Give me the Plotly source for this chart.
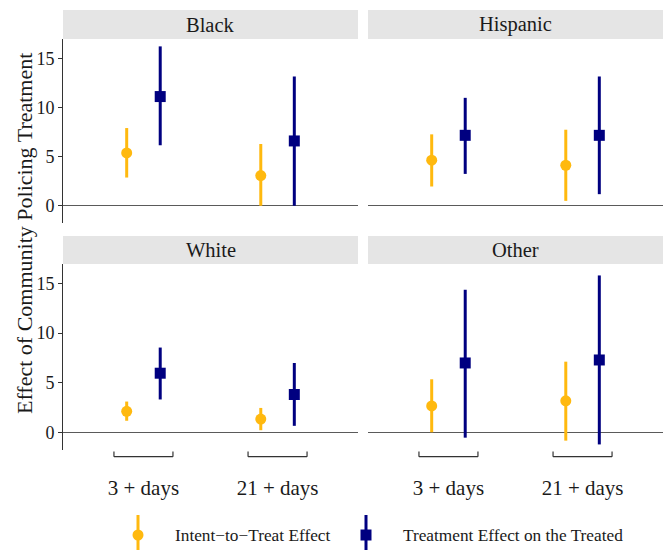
import numpy as np
import plotly.graph_objects as go

# ---------------- data ----------------
groups = ["Black", "Hispanic", "White", "Other"]
categories = ["3 + days", "21 + days"]
series_names = ["Intent\u2212to\u2212Treat Effect", "Treatment Effect on the Treated"]

itt_est = [[5.37, 3.07], [4.63, 4.12], [2.14, 1.36], [2.68, 3.19]]
itt_lo = [[2.87, 0.00], [1.96, 0.50], [1.19, 0.24], [0.03, -0.81]]
itt_hi = [[7.90, 6.28], [7.26, 7.73], [3.12, 2.48], [5.36, 7.13]]

tot_est = [[11.10, 6.59], [7.16, 7.16], [5.97, 3.83], [7.00, 7.30]]
tot_lo = [[6.15, 0.00], [3.24, 1.18], [3.33, 0.68], [-0.51, -1.19]]
tot_hi = [[16.20, 13.14], [10.97, 13.14], [8.55, 7.00], [14.36, 15.80]]

y_ticks = [0, 5, 10, 15]

# ---------------- style ----------------
ORANGE = "#FFB90F"
NAVY = "#000080"
FONT = "Liberation Serif, Times New Roman, DejaVu Serif, serif"
TXT = "#1a1a1a"
AXC = "#333333"
STRIP = "#E5E5E5"

W, H = 669, 550
ML, MR, MT, MB = 63, 6, 10, 100
PW, PH = W - ML - MR, H - MT - MB


def px_x(p):
    return (p - ML) / PW


def px_y(p):
    return (H - MB - p) / PH


x_domains = [[0.0, px_x(358)], [px_x(368), 1.0]]
y_domains_top = [px_y(223), px_y(39)]
y_domains_bot = [0.0, px_y(264)]
strip_top = [px_y(39), px_y(10)]
strip_bot = [px_y(264), px_y(236)]

x_range = [0.4, 2.6]
y_range = [-1.75, 16.95]
dodge = 0.125
bracket_half = 0.22

fig = go.Figure()

cat_pos = np.arange(1, len(categories) + 1)

for gi, g in enumerate(groups):
    n = gi + 1
    xa = "x" if n == 1 else f"x{n}"
    ya = "y" if n == 1 else f"y{n}"
    for est, lo, hi, col, sym, size, off, name in [
        (itt_est, itt_lo, itt_hi, ORANGE, "circle", 11, -dodge, series_names[0]),
        (tot_est, tot_lo, tot_hi, NAVY, "square", 11, dodge, series_names[1]),
    ]:
        e = np.array(est[gi])
        l = np.array(lo[gi])
        h = np.array(hi[gi])
        fig.add_trace(go.Scatter(
            x=cat_pos + off, y=e, mode="markers", xaxis=xa, yaxis=ya,
            name=name, showlegend=False,
            marker=dict(color=col, symbol=sym, size=size, line=dict(width=0)),
            error_y=dict(type="data", symmetric=False, array=h - e, arrayminus=e - l,
                         color=col, thickness=3, width=0),
        ))

layout = dict(
    width=W, height=H,
    margin=dict(l=ML, r=MR, t=MT, b=MB),
    paper_bgcolor="white", plot_bgcolor="white",
    showlegend=False,
    font=dict(family=FONT, color=TXT),
)

for gi in range(4):
    n = gi + 1
    col = gi % 2
    row = gi // 2
    xk = "xaxis" if n == 1 else f"xaxis{n}"
    yk = "yaxis" if n == 1 else f"yaxis{n}"
    ya = "y" if n == 1 else f"y{n}"
    xa = "x" if n == 1 else f"x{n}"
    xd = dict(domain=x_domains[col], range=x_range, anchor=ya, showgrid=False,
              zeroline=False, showline=False, ticks="", fixedrange=True)
    if row == 1:
        xd.update(tickmode="array", tickvals=list(cat_pos), ticktext=categories,
                  tickfont=dict(size=21, color=TXT, family=FONT), ticklabelstandoff=23)
    else:
        xd.update(showticklabels=False)
    yd = dict(domain=y_domains_top if row == 0 else y_domains_bot, range=y_range,
              anchor=xa, showgrid=False, zeroline=True, zerolinecolor="#5a5a5a",
              zerolinewidth=1, tickmode="array", tickvals=y_ticks, fixedrange=True)
    if col == 0:
        yd.update(showline=True, linecolor=AXC, linewidth=1, ticks="outside", ticklen=4,
                  tickcolor=AXC, tickwidth=1,
                  tickfont=dict(size=18, color=TXT, family=FONT))
    else:
        yd.update(showline=False, ticks="", showticklabels=False)
    layout[xk] = xd
    layout[yk] = yd

fig.update_layout(**layout)

# strips
for gi, g in enumerate(groups):
    col = gi % 2
    row = gi // 2
    sy = strip_top if row == 0 else strip_bot
    fig.add_shape(type="rect", xref="paper", yref="paper",
                  x0=x_domains[col][0], x1=x_domains[col][1], y0=sy[0], y1=sy[1],
                  fillcolor=STRIP, line=dict(width=0), layer="below")
    fig.add_annotation(xref="paper", yref="paper",
                       x=(x_domains[col][0] + x_domains[col][1]) / 2,
                       y=(sy[0] + sy[1]) / 2, text=g, showarrow=False,
                       xanchor="center", yanchor="middle",
                       font=dict(size=20.5, color=TXT, family=FONT))

# bracket x-axis for bottom panels
for n in [3, 4]:
    xa = f"x{n}"
    yr = f"y{n} domain"
    for c in cat_pos:
        fig.add_shape(type="line", xref=xa, yref=yr, x0=c - bracket_half, x1=c + bracket_half,
                      ysizemode="pixel", yanchor=0, y0=-6.7, y1=-6.7,
                      line=dict(color=AXC, width=1.2))
        for xe in [c - bracket_half, c + bracket_half]:
            fig.add_shape(type="line", xref=xa, yref=yr, x0=xe, x1=xe,
                          ysizemode="pixel", yanchor=0, y0=-6.7, y1=-1.5,
                          line=dict(color=AXC, width=1.2))

# y-axis title
fig.add_annotation(xref="paper", yref="paper", x=px_x(25), y=px_y(234),
                   text="Effect of Community Policing Treatment", textangle=-90,
                   showarrow=False, xanchor="center", yanchor="middle",
                   font=dict(size=22, color=TXT, family=FONT))

# legend (drawn manually: vertical range line with marker, like ggplot pointrange keys)
leg_y = px_y(535)
for xk_px, tx_px, col, shape, name in [
    (138, 173, ORANGE, "circle", series_names[0]),
    (366, 401, NAVY, "rect", series_names[1]),
]:
    fig.add_shape(type="line", xref="paper", yref="paper", x0=px_x(xk_px), x1=px_x(xk_px),
                  ysizemode="pixel", yanchor=leg_y, y0=-20, y1=20,
                  line=dict(color=col, width=3))
    fig.add_shape(type=shape, xref="paper", yref="paper",
                  xsizemode="pixel", xanchor=px_x(xk_px), x0=-5.5, x1=5.5,
                  ysizemode="pixel", yanchor=leg_y, y0=-5.5, y1=5.5,
                  fillcolor=col, line=dict(width=0))
    fig.add_annotation(xref="paper", yref="paper", x=px_x(tx_px), y=leg_y, text=name,
                       showarrow=False, xanchor="left", yanchor="middle",
                       font=dict(size=17.3, color=TXT, family=FONT))

fig.write_html("out.html", config={"displayModeBar": False, "staticPlot": True},
               post_script="document.body.style.margin='0';")
